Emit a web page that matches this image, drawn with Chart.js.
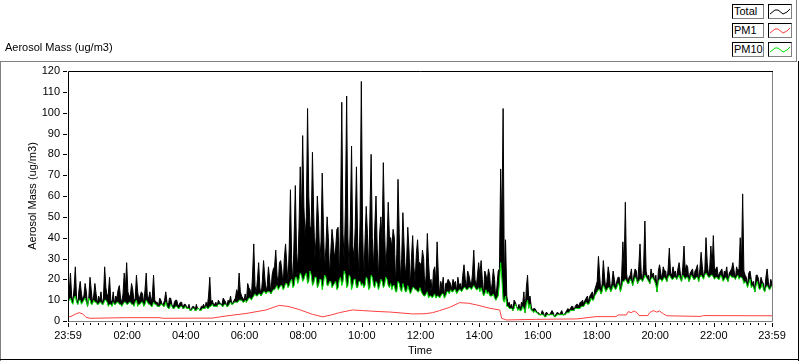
<!DOCTYPE html>
<html>
<head>
<meta charset="utf-8">
<script src="https://cdn.jsdelivr.net/npm/chart.js@4.4.0/dist/chart.umd.min.js"></script>
<style>
  html, body { margin: 0; padding: 0; background: #fff; }
  body { width: 800px; height: 361px; position: relative; overflow: hidden;
         font-family: "Liberation Sans", Arial, sans-serif; font-size: 11px; color: #000; }
  #chart { position: absolute; left: 0; top: 0; }
  #title { position: absolute; left: 5px; top: 41px; white-space: nowrap; }
  .line { position: absolute; background: #808080; }
  .dark { position: absolute; background: #000; }
  .lbl, .smp { position: absolute; height: 13px; box-sizing: content-box;
               border-style: solid; border-width: 1px; border-color: #000 #808080 #808080 #000; background: #fff; }
  .lbl { left: 732px; width: 29px; line-height: 13px; padding-left: 1px; }
  .smp { left: 768px; width: 22px; }
  .smp svg { position: absolute; left: 0; top: 0; }
</style>
</head>
<body>
<canvas id="chart" width="800" height="361"></canvas>
<div id="title">Aerosol Mass (ug/m3)</div>
<div class="line" style="left:0;top:61px;width:797px;height:1px"></div>
<div class="line" style="left:0;top:61px;width:1px;height:300px"></div>
<div class="line" style="left:796px;top:0;width:1px;height:62px"></div>
<div class="dark" style="left:798px;top:61px;width:1px;height:300px"></div>
<div class="dark" style="left:0;top:359px;width:799px;height:1px"></div>
<div id="legend"></div>
<script>
// minutes between samples, counted from 23:59
const sampleStep = 5;

// Total mass, ug/m3, one value every 5 min (first value at 23:59)
const totalMass = [12,
  23, 9, 26, 8, 19, 10, 18, 7, 21, 9, 18, 8,
  10, 8, 26, 12, 21, 9, 8, 11, 17, 9, 23, 28,
  12, 18, 9, 22, 10, 14, 8, 23, 11, 9, 22, 9,
  7, 10, 8, 14, 7, 11, 6, 10, 7, 9, 6, 8,
  6, 5, 7, 5, 6, 5, 7, 6, 7, 21, 10, 8,
  7, 9, 8, 10, 7, 9, 8, 10, 15, 23, 12, 10,
  9, 16, 11, 37, 13, 28, 12, 29, 14, 26, 13, 25,
  34, 17, 29, 16, 37, 18, 63, 17, 65, 25, 74, 89,
  40, 102, 45, 81, 30, 60, 28, 71, 25, 50, 22, 44,
  30, 44, 20, 105, 28, 108, 24, 84, 30, 74, 21, 115,
  20, 55, 22, 80, 25, 60, 20, 50, 76, 24, 57, 40,
  44, 18, 68, 20, 52, 22, 45, 16, 41, 19, 39, 28,
  34, 14, 42, 18, 13, 26, 38, 12, 16, 11, 18, 19,
  15, 18, 14, 17, 15, 27, 16, 22, 17, 34, 16, 28,
  29, 12, 22, 25, 13, 25, 10, 24, 73, 102, 39, 8,
  7, 5, 9, 6, 5, 8, 4, 22, 12, 5, 6, 4,
  3, 5, 2, 4, 3, 5, 2, 4, 3, 5, 3, 5,
  5, 7, 5, 8, 7, 9, 8, 11, 9, 13, 11, 17,
  31, 13, 29, 15, 26, 14, 24, 16, 21, 14, 38, 57,
  18, 22, 17, 25, 18, 37, 19, 48, 21, 18, 22, 19,
  14, 27, 20, 24, 19, 35, 22, 23, 20, 28, 19, 36,
  27, 19, 24, 20, 25, 19, 33, 21, 40, 22, 36, 41,
  25, 21, 24, 20, 23, 19, 24, 28, 20, 24, 40, 61,
  22, 17, 24, 18, 14, 22, 16, 19, 14, 25, 15, 18
];
// Total at the half-way samples (2.5 min after each value above)
const totalMassMid = [
  14, 12, 16, 11, 15, 13, 12, 14, 11, 15, 12, 13,
  12, 14, 11, 16, 13, 10, 14, 12, 15, 11, 13, 16,
  14, 12, 15, 11, 14, 12, 13, 15, 11, 14, 12, 10,
  9, 11, 8, 10, 9, 11, 8, 9, 10, 8, 9, 8,
  7, 8, 6, 7, 8, 6, 7, 8, 9, 12, 9, 8,
  9, 10, 8, 11, 9, 10, 12, 9, 11, 13, 14, 11,
  13, 18, 15, 22, 17, 20, 16, 19, 21, 17, 20, 22,
  26, 22, 28, 24, 30, 27, 35, 29, 40, 33, 45, 48,
  55, 50, 60, 45, 52, 40, 48, 38, 45, 35, 40, 33,
  38, 35, 45, 50, 42, 55, 40, 48, 36, 45, 38, 50,
  45, 38, 42, 50, 40, 45, 35, 42, 38, 44, 36, 40,
  35, 40, 32, 42, 30, 36, 28, 34, 30, 26, 32, 28,
  25, 30, 22, 28, 20, 24, 18, 22, 19, 21, 18, 20,
  18, 20, 19, 21, 18, 22, 20, 24, 19, 23, 20, 22,
  22, 20, 24, 19, 22, 18, 20, 17, 25, 45, 20, 12,
  9, 8, 10, 7, 8, 9, 14, 16, 10, 7, 6, 5,
  4, 3, 4, 4, 3, 4, 4, 3, 4, 4, 3, 4,
  6, 6, 7, 7, 8, 9, 10, 10, 12, 12, 14, 15,
  19, 22, 18, 21, 19, 22, 18, 20, 19, 21, 22, 25,
  23, 21, 25, 22, 24, 26, 23, 27, 24, 22, 25, 23,
  22, 24, 23, 26, 24, 25, 23, 26, 24, 25, 23, 26,
  24, 26, 23, 25, 24, 27, 25, 26, 24, 28, 25, 26,
  24, 26, 23, 25, 24, 26, 23, 25, 24, 26, 25, 27,
  24, 21, 23, 20, 19, 22, 20, 21, 18, 21, 19, 20
];

// PM10, same sampling
const pm10Mass = [9,
  11, 8, 12, 8, 10, 9, 11, 7, 10, 8, 9, 8,
  9, 8, 10, 9, 8, 7, 8, 9, 8, 7, 9, 8,
  9, 8, 7, 10, 8, 9, 7, 10, 8, 7, 9, 8,
  7, 8, 7, 9, 6, 8, 6, 7, 6, 7, 6, 7,
  6, 5, 6, 5, 6, 5, 6, 6, 6, 7, 8, 7,
  7, 8, 7, 8, 7, 8, 8, 9, 9, 10, 10, 9,
  9, 11, 10, 12, 12, 13, 12, 14, 13, 14, 13, 15,
  16, 15, 17, 15, 18, 16, 19, 16, 21, 18, 23, 19,
  22, 18, 24, 17, 21, 16, 20, 15, 22, 17, 19, 16,
  18, 15, 20, 17, 24, 16, 22, 15, 20, 16, 19, 17,
  16, 21, 15, 22, 17, 19, 15, 20, 16, 21, 17, 18,
  17, 14, 19, 15, 18, 14, 17, 13, 16, 15, 14, 16,
  13, 12, 14, 12, 11, 13, 12, 11, 13, 11, 14, 13,
  14, 15, 13, 15, 14, 16, 15, 16, 15, 17, 15, 16,
  16, 12, 15, 14, 12, 13, 10, 12, 28, 10, 12, 7,
  6, 5, 8, 5, 5, 7, 4, 10, 8, 5, 5, 4,
  3, 3, 2, 3, 3, 3, 2, 3, 3, 3, 3, 4,
  4, 5, 5, 6, 6, 7, 7, 9, 8, 11, 10, 13,
  15, 13, 17, 14, 16, 14, 17, 15, 18, 14, 19, 20,
  18, 20, 17, 21, 18, 20, 19, 22, 20, 18, 21, 19,
  14, 20, 19, 21, 19, 22, 20, 21, 20, 22, 19, 21,
  21, 19, 22, 20, 21, 19, 22, 20, 23, 21, 22, 21,
  21, 20, 22, 19, 21, 19, 22, 21, 20, 22, 21, 20,
  19, 16, 20, 17, 14, 19, 15, 18, 14, 17, 15, 17
];
const pm10MassMid = [
  10, 9, 11, 9, 10, 8, 10, 9, 11, 8, 10, 9,
  8, 9, 8, 10, 7, 8, 9, 8, 9, 8, 8, 9,
  8, 9, 8, 9, 7, 8, 9, 8, 9, 8, 7, 8,
  7, 7, 8, 7, 7, 6, 7, 6, 7, 6, 7, 6,
  6, 6, 5, 6, 5, 6, 5, 6, 7, 6, 7, 7,
  7, 8, 8, 7, 8, 7, 9, 8, 9, 9, 10, 9,
  10, 10, 11, 11, 13, 12, 13, 13, 14, 14, 14, 14,
  15, 17, 16, 17, 16, 18, 17, 20, 17, 21, 20, 22,
  20, 23, 19, 22, 18, 21, 17, 20, 18, 21, 17, 19,
  17, 19, 16, 21, 19, 22, 17, 21, 17, 20, 16, 19,
  18, 17, 20, 16, 21, 16, 18, 17, 19, 17, 20, 16,
  15, 17, 14, 18, 14, 16, 14, 15, 14, 16, 15, 14,
  14, 12, 13, 11, 12, 12, 11, 12, 12, 13, 12, 14,
  15, 14, 15, 14, 15, 15, 16, 15, 16, 16, 16, 15,
  14, 14, 13, 13, 12, 12, 11, 11, 18, 20, 9, 7,
  6, 6, 6, 7, 6, 5, 6, 8, 6, 5, 4, 4,
  3, 3, 3, 2, 3, 3, 3, 2, 3, 3, 3, 3,
  4, 5, 5, 6, 6, 6, 7, 8, 8, 9, 10, 12,
  14, 15, 14, 16, 15, 16, 15, 16, 16, 17, 16, 19,
  19, 18, 19, 19, 20, 19, 20, 20, 21, 19, 20, 20,
  17, 19, 20, 20, 20, 21, 21, 20, 21, 21, 20, 22,
  20, 21, 20, 21, 20, 21, 21, 21, 22, 22, 21, 22,
  20, 21, 20, 21, 20, 20, 21, 21, 21, 21, 20, 21,
  18, 18, 18, 16, 16, 17, 16, 16, 15, 16, 16, 16
];

// PM1 is smooth, so only its turning points (minutes after 23:59)
const pm1Times = [0, 8, 16, 23, 30, 37, 45, 120, 186, 195, 295, 323, 364, 405, 432, 450, 473,
  500, 521, 540, 555, 582, 603, 630, 658, 705, 730, 746, 760, 780, 801, 820, 836, 863, 883,
  887, 897, 959, 1041, 1080, 1121, 1125, 1142, 1146, 1152, 1158, 1164, 1168, 1186, 1190,
  1197, 1204, 1210, 1218, 1225, 1293, 1300, 1440];
const pm1Mass = [1.8, 2.4, 3.4, 4.0, 3.4, 1.8, 1.3, 1.6, 1.6, 1.3, 1.4, 2.4, 3.6, 5.3, 7.5, 7.0, 5.5,
  3.2, 2.0, 3.0, 4.0, 5.3, 5.0, 4.6, 4.3, 3.4, 3.5, 4.0, 5.0, 6.5, 8.8, 8.5, 7.7, 6.1, 5.3,
  1.3, 0.5, 0.8, 1.0, 2.1, 2.1, 2.9, 2.9, 4.5, 4.0, 4.8, 4.0, 2.6, 2.6, 4.0,
  5.0, 4.3, 4.8, 3.4, 2.5, 2.2, 2.6, 2.5];

const seriesNames = ['Total', 'PM1', 'PM10'];
const tickMinutes = [0, 121, 241, 361, 481, 601, 721, 841, 961, 1081, 1201, 1321, 1440];
const tickLabels = ['23:59', '02:00', '04:00', '06:00', '08:00', '10:00', '12:00',
  '14:00', '16:00', '18:00', '20:00', '22:00', '23:59'];

const colors = { 'Total': '#000000', 'PM1': '#ff4040', 'PM10': '#00e000' };

// legend boxes, LabVIEW style
const legend = document.getElementById('legend');
seriesNames.forEach((name, i) => {
  const top = 4 + i * 19;
  const lbl = document.createElement('div');
  lbl.className = 'lbl';
  lbl.style.top = top + 'px';
  lbl.textContent = name;
  const smp = document.createElement('div');
  smp.className = 'smp';
  smp.style.top = top + 'px';
  smp.innerHTML = '<svg width="22" height="13"><polyline fill="none" stroke="' + colors[name] +
    '" stroke-width="1" points="1,9 6,5 9,5 14,9 18,7 21,4"/></svg>';
  legend.appendChild(lbl);
  legend.appendChild(smp);
});

// merge the 5 min samples with the half-way samples
function interleave(main, mid) {
  const out = [];
  main.forEach((v, i) => {
    out.push({ x: i * sampleStep, y: v });
    if (i < mid.length) out.push({ x: i * sampleStep + sampleStep / 2, y: mid[i] });
  });
  return out;
}
function pts(xs, ys) { return ys.map((v, i) => ({ x: xs[i], y: v })); }

// plot frame and tick marks drawn from the scales
const frameTicks = {
  id: 'frameTicks',
  afterDraw(chart) {
    const { ctx, chartArea: a, scales: { x, y } } = chart;
    ctx.save();
    ctx.lineWidth = 1;
    ctx.strokeStyle = '#808080';
    ctx.beginPath();
    ctx.moveTo(a.left, a.bottom + 0.5); ctx.lineTo(a.right + 0.5, a.bottom + 0.5);
    ctx.lineTo(a.right + 0.5, a.top);
    ctx.stroke();
    ctx.strokeStyle = '#000';
    ctx.beginPath();
    ctx.moveTo(a.left + 0.5, a.bottom + 1); ctx.lineTo(a.left + 0.5, a.top + 0.5);
    ctx.lineTo(a.right + 1, a.top + 0.5);
    x.ticks.forEach(t => {
      const px = Math.round(x.getPixelForValue(t.value)) + 0.5;
      const len = t.label ? 4 : 2;
      ctx.moveTo(px, a.bottom + 2); ctx.lineTo(px, a.bottom + 2 + len);
    });
    y.ticks.forEach(t => {
      const py = Math.round(y.getPixelForValue(t.value)) + 0.5;
      ctx.moveTo(a.left - 5, py); ctx.lineTo(a.left - 1, py);
    });
    ctx.stroke();
    ctx.restore();
  }
};

Chart.defaults.font.family = '"Liberation Sans", Arial, sans-serif';
Chart.defaults.font.size = 11;
Chart.defaults.color = '#000';

new Chart(document.getElementById('chart'), {
  type: 'line',
  data: {
    datasets: [
      // the dense trace reads as a solid band down to the PM10 trace
      { label: 'Total', data: interleave(totalMass, totalMassMid), borderColor: colors['Total'],
        backgroundColor: colors['Total'], fill: 2, order: 2 },
      { label: 'PM1', data: pts(pm1Times, pm1Mass), borderColor: colors['PM1'], order: 1 },
      { label: 'PM10', data: interleave(pm10Mass, pm10MassMid), borderColor: colors['PM10'], order: 0 }
    ]
  },
  options: {
    responsive: false,
    animation: false,
    parsing: false,
    normalized: true,
    elements: {
      line: { borderWidth: 1, tension: 0 },
      point: { radius: 0 }
    },
    layout: { padding: { left: 0, right: 28, top: 71, bottom: 0 } },
    plugins: { legend: { display: false }, tooltip: { enabled: false } },
    scales: {
      x: {
        type: 'linear',
        min: 0, max: 1440,
        grid: { display: false, drawTicks: false },
        border: { display: false },
        afterFit(scale) { scale.height = 40; },
        afterBuildTicks(scale) {
          const list = [0];
          for (let m = 16; m < 1440; m += 15) list.push(m);
          list.push(1440);
          scale.ticks = list.map(v => ({ value: v }));
        },
        ticks: {
          autoSkip: false, maxRotation: 0, minRotation: 0, padding: 8,
          callback(value) {
            const k = tickMinutes.indexOf(value);
            return k >= 0 ? tickLabels[k] : '';
          }
        },
        title: { display: true, text: 'Time', padding: { top: 0, bottom: 3 } }
      },
      y: {
        min: 0, max: 120,
        grid: { display: false, drawTicks: false },
        border: { display: false },
        afterFit(scale) { scale.width = 68; },
        ticks: { stepSize: 10, padding: 8 },
        title: { display: true, text: 'Aerosol Mass (ug/m3)', padding: { top: 26, bottom: 0 } }
      }
    }
  },
  plugins: [frameTicks]
});
</script>
</body>
</html>
